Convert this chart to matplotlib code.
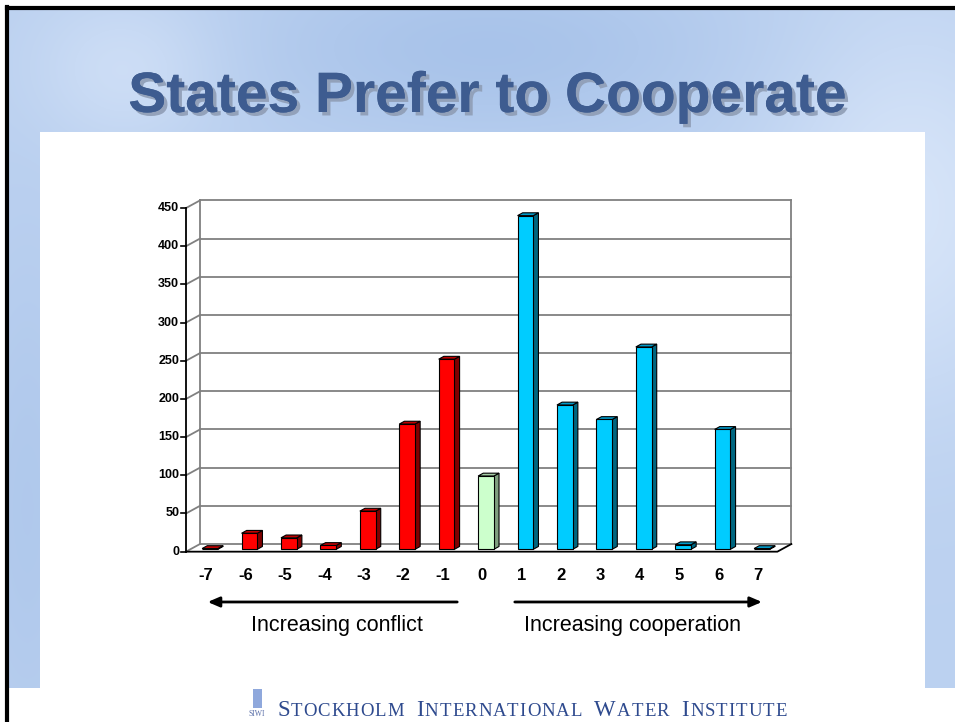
import matplotlib
matplotlib.use("Agg")
import matplotlib.pyplot as plt
import matplotlib.patheffects as pe
from matplotlib.patches import Polygon, Rectangle
import numpy as np

# ---- data ----
categories = [-7, -6, -5, -4, -3, -2, -1, 0, 1, 2, 3, 4, 5, 6, 7]
values = [1, 21, 15, 5, 50, 164, 249, 96, 437, 189, 170, 265, 6, 157, 1]
y_ticks = [0, 50, 100, 150, 200, 250, 300, 350, 400, 450]
title = "States Prefer to Cooperate"
left_note = "Increasing conflict"
right_note = "Increasing cooperation"
institute = "Stockholm International Water Institute"

W, H = 955, 722
fig = plt.figure(figsize=(W / 100, H / 100), dpi=100)

# ---- slide background (pixel coords) ----
bg = fig.add_axes([0, 0, 1, 1])
bg.set_xlim(0, W)
bg.set_ylim(H, 0)
bg.axis("off")

yy, xx = np.mgrid[0:680, 0:948]
field = 0.5 + 0.25 * np.exp(-((xx - 120) ** 2 / 9000 + (yy - 60) ** 2 / 6000))
field += 0.35 * np.exp(-((xx - 900) ** 2 / 20000 + (yy - 200) ** 2 / 40000))
field -= 0.25 * np.exp(-((xx - 480) ** 2 / 60000 + (yy - 40) ** 2 / 8000))
field -= 0.15 * np.exp(-((xx - 20) ** 2 / 3000 + (yy - 500) ** 2 / 60000))
field = np.clip(field, 0, 1)
dark = np.array([150, 182, 228]) / 255
light = np.array([225, 236, 252]) / 255
img = dark[None, None, :] + field[..., None] * (light - dark)[None, None, :]
bg.imshow(img, extent=(7, 955, 688, 8), aspect="auto", zorder=0)
bg.add_patch(Rectangle((40, 132), 885, 560, facecolor="white", edgecolor="none", zorder=1))
bg.plot([6.5, 6.5], [7, 722], color="black", lw=3, zorder=2)
bg.plot([6.5, 955], [7.5, 7.5], color="black", lw=3, zorder=2)

bg.text(488, 97, title, ha="center", va="center", fontsize=41, fontweight="bold",
        family="Liberation Sans", color="#3E5C90", zorder=3,
        path_effects=[pe.withSimplePatchShadow(offset=(2.5, -2.5), shadow_rgbFace="#8f9db5", alpha=0.9),
                      pe.Normal()])

# logo
bg.add_patch(Rectangle((253, 689), 9, 19, facecolor="#8fa8dc", edgecolor="none", zorder=3))
bg.text(257, 714, "SIWI", ha="center", va="center", fontsize=5.5, family="Liberation Serif",
        color="#5a6fa8", zorder=3)

# small-caps institute name, letter-spaced to the reference width
renderer = fig.canvas.get_renderer()
logo_col = "#2E4A8E"


def small_caps(x0, x1, y0, text, big, small):
    glyphs = []
    for word in text.split():
        glyphs.append([(word[0], big)] + [(ch.upper(), small) for ch in word[1:]])
    widths = []
    for word in glyphs:
        ws = []
        for ch, fs in word:
            t = bg.text(0, 0, ch, fontsize=fs, family="Liberation Serif")
            ws.append(t.get_window_extent(renderer).width)
            t.remove()
        widths.append(ws)
    space = big * 0.75
    n_gaps = sum(len(w) - 1 for w in widths)
    natural = sum(sum(w) for w in widths) + space * (len(widths) - 1)
    track = (x1 - x0 - natural) / max(n_gaps, 1)
    x = x0
    for word, ws in zip(glyphs, widths):
        for k, ((ch, fs), w) in enumerate(zip(word, ws)):
            bg.text(x, y0, ch, ha="left", va="baseline", fontsize=fs,
                    family="Liberation Serif", color=logo_col, zorder=3)
            x += w + (track if k < len(word) - 1 else 0)
        x += space


small_caps(277, 787, 716.5, institute, 16.5, 13.5)

# ---- chart (data coords = bar front plane) ----
ax = fig.add_axes([190.3 / W, (H - 549.3) / H, 591.4 / W, 343.6 / H])
ax.set_xlim(-7.5, 7.5)
ax.set_ylim(0, 450)
ax.axis("off")

bdx, bdy = 0.245, 6.9     # back wall offset
fdx, fdy = -0.11, -3.1    # front edge offset
grid_c = "#808080"

xl, xr = -7.5, 7.5
for v in y_ticks:
    ax.plot([xl + bdx, xr + bdx], [v + bdy, v + bdy], color=grid_c, lw=1.3, clip_on=False, zorder=1)
    ax.plot([xl + fdx, xl + bdx], [v + fdy, v + bdy], color=grid_c, lw=1.3, clip_on=False, zorder=1)
    ax.plot([xl + fdx - 0.13, xl + fdx], [v + fdy, v + fdy], color="black", lw=1.2, clip_on=False, zorder=2)
    ax.text(xl + fdx - 0.17, v + fdy, str(v), ha="right", va="center", fontsize=9,
            fontweight="bold", family="Liberation Sans", clip_on=False)
top = y_ticks[-1]
ax.plot([xl + bdx, xl + bdx], [bdy, top + bdy], color=grid_c, lw=1.3, clip_on=False, zorder=1)
ax.plot([xr + bdx, xr + bdx], [bdy, top + bdy], color=grid_c, lw=1.3, clip_on=False, zorder=1)
# axis and floor
ax.plot([xl + fdx, xl + fdx], [fdy, top + fdy], color="black", lw=1.3, clip_on=False, zorder=2)
ax.plot([xl + fdx, xr + fdx, xr + bdx], [fdy, fdy, bdy], color="black", lw=1.3, clip_on=False, zorder=2)

# bars
width = 0.4
ddx, ddy = 0.13, 3.7
front_cols, side_cols, top_cols = [], [], []
for c in categories:
    if c < 0:
        front_cols.append("#FF0000"); side_cols.append("#800000"); top_cols.append("#C00000")
    elif c == 0:
        front_cols.append("#CCFFCC"); side_cols.append("#7F9F7F"); top_cols.append("#A5CCA5")
    else:
        front_cols.append("#00CCFF"); side_cols.append("#006680"); top_cols.append("#0099C8")

bars = ax.bar(categories, values, width=width, color=front_cols, edgecolor="black",
              linewidth=0.8, zorder=5, clip_on=False)
for rect, sc, tc in zip(bars, side_cols, top_cols):
    x0, w, h = rect.get_x(), rect.get_width(), rect.get_height()
    side = Polygon([(x0 + w, 0), (x0 + w + ddx, ddy), (x0 + w + ddx, h + ddy), (x0 + w, h)],
                   closed=True, facecolor=sc, edgecolor="black", lw=0.8, zorder=4, clip_on=False)
    lid = Polygon([(x0, h), (x0 + w, h), (x0 + w + ddx, h + ddy), (x0 + ddx, h + ddy)],
                  closed=True, facecolor=tc, edgecolor="black", lw=0.8, zorder=4, clip_on=False)
    ax.add_patch(side)
    ax.add_patch(lid)

for c in categories:
    ax.text(c - 0.1, -33.7, str(c), ha="center", va="center", fontsize=12, fontweight="bold",
            family="Liberation Sans", clip_on=False)

# direction arrows
ax.annotate("", xy=(-7.13, -69), xytext=(-0.66, -69), annotation_clip=False,
            arrowprops=dict(arrowstyle="-|>,head_length=0.7,head_width=0.3", color="black", lw=2))
ax.annotate("", xy=(7.07, -69), xytext=(0.66, -69), annotation_clip=False,
            arrowprops=dict(arrowstyle="-|>,head_length=0.7,head_width=0.3", color="black", lw=2))
ax.text(-3.78, -99.5, left_note, ha="center", va="center", fontsize=15.5,
        family="Liberation Sans", clip_on=False)
ax.text(3.72, -99.5, right_note, ha="center", va="center", fontsize=15.5,
        family="Liberation Sans", clip_on=False)

fig.savefig("out.png", dpi=100)
